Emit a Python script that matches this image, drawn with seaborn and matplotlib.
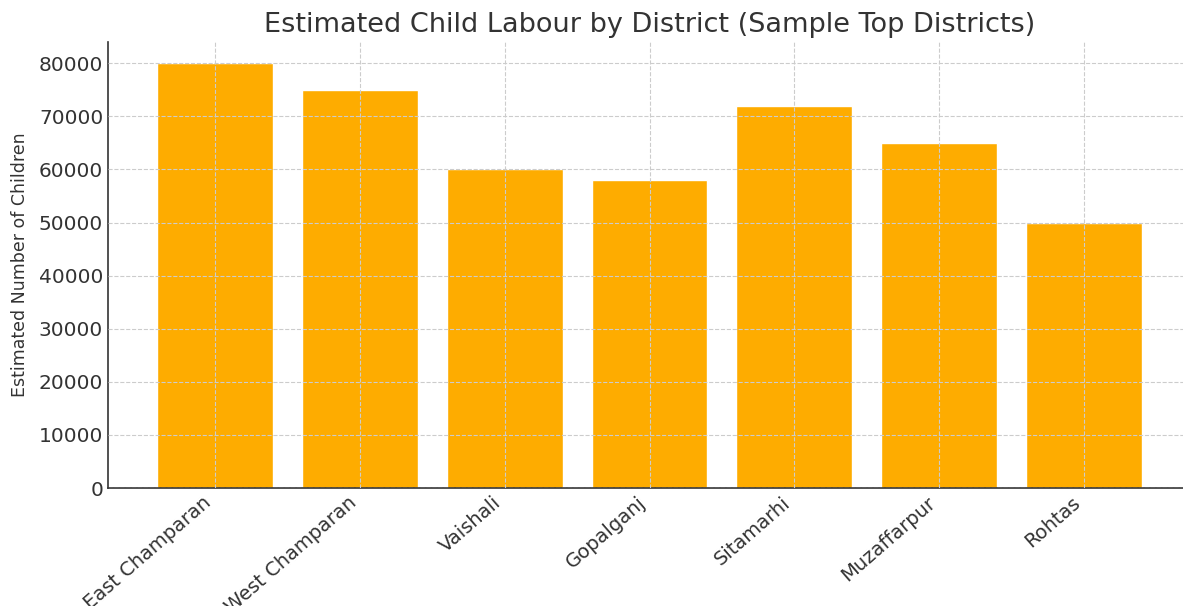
import matplotlib
matplotlib.use("Agg")
import matplotlib.pyplot as plt
import seaborn as sns
import pandas as pd

districts = ["East Champaran", "West Champaran", "Vaishali", "Gopalganj",
             "Sitamarhi", "Muzaffarpur", "Rohtas"]
children = [80000, 75000, 60000, 58000, 72000, 65000, 50000]

sns.set_style("white")
plt.rcParams['font.family'] = ['DejaVu Sans']
text_color = "#333333"

df = pd.DataFrame({"District": districts, "Children": children})

fig = plt.figure(figsize=(11.83, 6.06), dpi=100)
ax = fig.add_axes([0.0913, 0.1947, 0.9155, 0.736])

sns.barplot(data=df, x="District", y="Children", color="#FEAC00",
            saturation=1, width=0.8, ax=ax)
ax.set_xlim(-0.74, 6.74)
ax.set_ylim(0, 84000)

ax.set_axisbelow(False)
ax.grid(True, linestyle="--", color="#cccccc", linewidth=0.8)
for s in ["top", "right"]:
    ax.spines[s].set_visible(False)
for s in ["left", "bottom"]:
    ax.spines[s].set_color("#333333")
    ax.spines[s].set_linewidth(1.2)

ax.tick_params(axis="both", direction="in", length=4, color="#333333",
               labelsize=14.5, labelcolor=text_color)
ax.tick_params(axis="x", labelsize=14)
plt.setp(ax.get_xticklabels(), rotation=41, ha="right", rotation_mode="default")

ax.set_title("Estimated Child Labour by District (Sample Top Districts)",
             fontsize=19.5, color=text_color, pad=7)
ax.set_xlabel("")
ax.set_ylabel("Estimated Number of Children", fontsize=12.5, color=text_color,
              labelpad=7)

fig.savefig("out.png", dpi=100)
